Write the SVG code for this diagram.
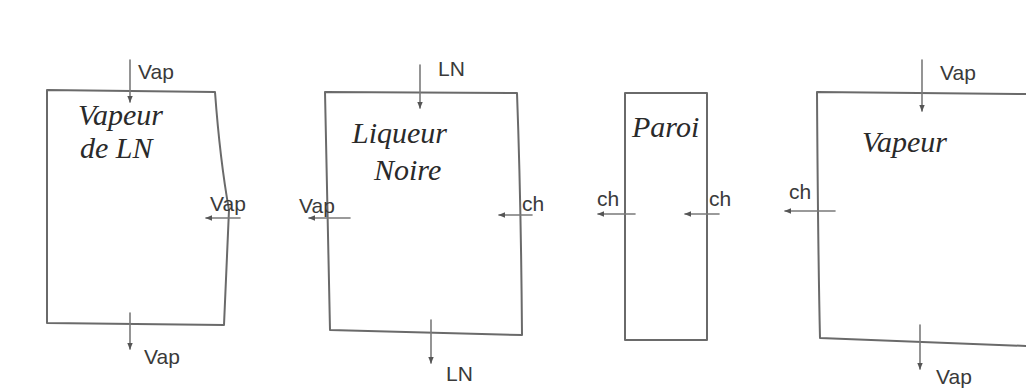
<svg xmlns="http://www.w3.org/2000/svg" width="1026" height="390" viewBox="0 0 1026 390">
<style>
.box{fill:none;stroke:#6a6a6a;stroke-width:2;stroke-linejoin:round;stroke-linecap:round}
.flow{fill:none;stroke:#7a7a7a;stroke-width:1.6;stroke-linecap:round}
.lbl{font-family:"Liberation Sans",Arial,sans-serif;font-size:21px;fill:#3a3a3a}
.name{font-family:"Liberation Serif","Times New Roman",serif;font-style:italic;font-size:30px;fill:#2a2a2a}
</style>
<defs>
<marker id="ah" viewBox="0 0 10 10" refX="9" refY="5" markerWidth="7" markerHeight="7" orient="auto" markerUnits="userSpaceOnUse">
<path d="M0,1 L10,5 L0,9 Z" fill="#555"/>
</marker>
</defs>
<rect width="1026" height="390" fill="#ffffff"/>

<g id="vapeur-ln">
<path class="box" d="M47,90 L215,92 Q220,160 229,210 L224,325 L47,323 Z"/>
<text class="name" x="78" y="125">Vapeur</text>
<text class="name" x="80" y="158">de LN</text>
</g>

<g id="liqueur-noire">
<path class="box" d="M325,92 L517,93 Q521,200 522,335 L330,330 Z"/>
<text class="name" x="352" y="143">Liqueur</text>
<text class="name" x="374" y="180">Noire</text>
</g>

<g id="paroi">
<path class="box" d="M625,93 L707,93 L707,340 L625,340 Z"/>
<text class="name" x="632" y="137">Paroi</text>
</g>

<g id="vapeur">
<path class="box" d="M1026,94 L817,92 Q818,250 820,338 L1026,346"/>
<text class="name" x="862" y="152">Vapeur</text>
</g>

<g id="connectors">
<line class="flow" x1="130" y1="60" x2="130" y2="102" marker-end="url(#ah)"/>
<line class="flow" x1="240" y1="218" x2="206" y2="218" marker-end="url(#ah)"/>
<line class="flow" x1="130" y1="313" x2="130" y2="349" marker-end="url(#ah)"/>
<line class="flow" x1="420" y1="65" x2="420" y2="108" marker-end="url(#ah)"/>
<line class="flow" x1="350" y1="218" x2="309" y2="218" marker-end="url(#ah)"/>
<line class="flow" x1="532" y1="215" x2="499" y2="215" marker-end="url(#ah)"/>
<line class="flow" x1="431" y1="320" x2="431" y2="363" marker-end="url(#ah)"/>
<line class="flow" x1="635" y1="214" x2="598" y2="214" marker-end="url(#ah)"/>
<line class="flow" x1="719" y1="214" x2="685" y2="214" marker-end="url(#ah)"/>
<line class="flow" x1="835" y1="211" x2="785" y2="211" marker-end="url(#ah)"/>
<line class="flow" x1="922" y1="60" x2="922" y2="111" marker-end="url(#ah)"/>
<line class="flow" x1="920" y1="325" x2="920" y2="369" marker-end="url(#ah)"/>
</g>

<g id="labels">
<text class="lbl" x="138" y="79">Vap</text>
<text class="lbl" x="210" y="211">Vap</text>
<text class="lbl" x="144" y="364">Vap</text>
<text class="lbl" x="438" y="76">LN</text>
<text class="lbl" x="299" y="213">Vap</text>
<text class="lbl" x="522" y="211">ch</text>
<text class="lbl" x="446" y="381">LN</text>
<text class="lbl" x="597" y="206">ch</text>
<text class="lbl" x="709" y="206">ch</text>
<text class="lbl" x="789" y="199">ch</text>
<text class="lbl" x="940" y="80">Vap</text>
<text class="lbl" x="936" y="384">Vap</text>
</g>
</svg>
